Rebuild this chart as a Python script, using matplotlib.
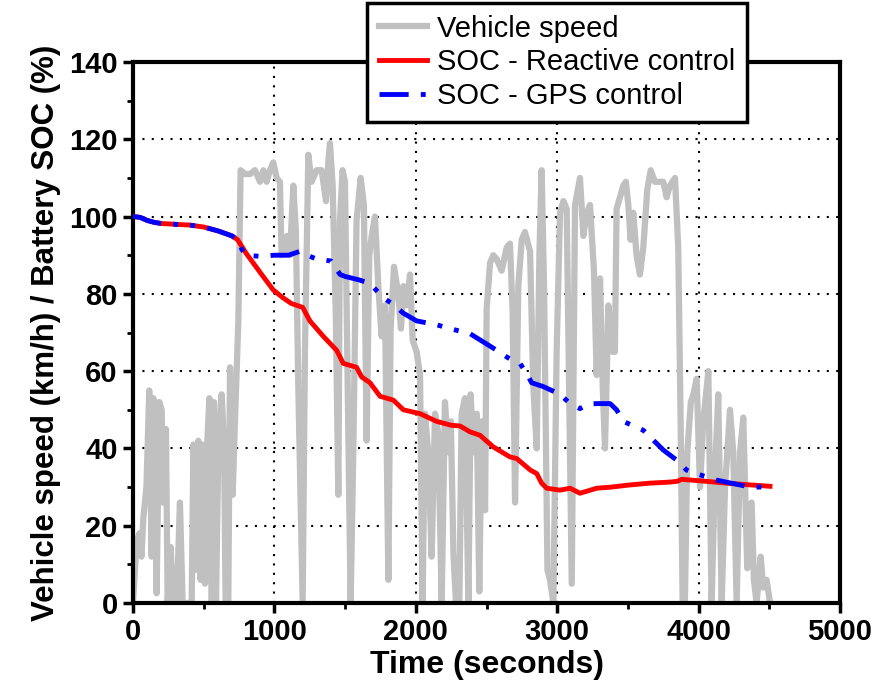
import numpy as np
import matplotlib
matplotlib.use("Agg")
import matplotlib.pyplot as plt
from matplotlib.ticker import MultipleLocator

plt.rcParams['font.family'] = ['Liberation Sans', 'DejaVu Sans']

# drive cycle: time (s) and vehicle speed (km/h)
speed_t = [0, 10, 25, 45, 60, 73, 95, 115, 132, 144, 167, 186, 203, 214, 233, 245,
           266, 285, 309, 332, 351, 415, 427, 438, 462, 478, 493, 509, 525, 540,
           557, 573, 587, 604, 627, 644, 655, 674, 686, 705, 721, 745, 761, 792,
           827, 863, 898, 922, 945, 969, 992, 1016, 1039, 1051, 1068, 1090, 1110,
           1134, 1152, 1169, 1200, 1216, 1240, 1263, 1299, 1334, 1365, 1381, 1393,
           1412, 1435, 1452, 1464, 1482, 1499, 1515, 1539, 1558, 1581, 1610, 1633,
           1652, 1671, 1688, 1711, 1735, 1758, 1782, 1806, 1822, 1846, 1876, 1895,
           1912, 1935, 1959, 1978, 2006, 2030, 2048, 2065, 2088, 2112, 2136, 2159,
           2183, 2206, 2230, 2248, 2266, 2284, 2308, 2324, 2348, 2372, 2388, 2407,
           2431, 2449, 2466, 2490, 2501, 2525, 2548, 2572, 2607, 2643, 2666, 2685,
           2702, 2725, 2749, 2772, 2808, 2831, 2855, 2874, 2890, 2907, 2931, 2949,
           2973, 2996, 3020, 3044, 3067, 3103, 3126, 3161, 3185, 3209, 3232, 3260,
           3279, 3303, 3322, 3338, 3362, 3392, 3408, 3420, 3444, 3467, 3486, 3503,
           3519, 3538, 3561, 3585, 3609, 3637, 3661, 3691, 3715, 3750, 3774, 3797,
           3833, 3856, 3873, 3887, 3903, 3920, 3945, 3963, 3986, 4010, 4033, 4069,
           4092, 4116, 4139, 4163, 4187, 4222, 4245, 4269, 4293, 4316, 4344, 4375,
           4391, 4410, 4439, 4457, 4481, 4505]
speed_v = [0, 6, 16, 18, 12, 22, 30, 55, 12, 53, 2.5, 52, 50, 26, 45, 0,
           14.5, 0, 0, 26, 0, 0, 41, 8.5, 42, 6, 41, 5, 41, 53,
           0, 52, 0, 41, 54, 41, 0, 0, 61, 28, 47, 73, 112, 111,
           111, 112, 109, 112, 109, 112, 114, 110, 109, 90, 91, 95, 90,
           108, 96, 56, 0, 65, 116, 109, 112, 112, 104, 114, 119,
           108, 73, 28, 99, 112, 109, 65, 0, 39, 99, 110, 103,
           42, 90, 95, 100, 82, 69, 77, 6, 71, 87, 80, 71,
           82, 77, 85, 68, 65, 59, 0, 49, 39, 12, 49, 44,
           0, 52, 39, 47, 13, 0, 0, 49, 53, 0, 54, 39,
           49, 3, 47, 24, 76, 88, 90, 89, 86, 92, 93, 75,
           26, 82, 94, 96, 91, 56, 40, 90, 112, 82, 8.5, 6,
           0, 65, 101, 104, 102, 5, 103, 110, 95, 101, 103, 86,
           59, 84, 56, 40, 77, 65, 65, 102, 105, 108, 109, 103,
           94, 101, 90, 85, 92, 107, 112, 109, 109, 109, 105, 108,
           110, 92, 47, 0, 0, 39, 52, 54, 58, 30, 47, 60,
           0, 34, 54, 0, 30, 50, 39, 0, 39, 48, 9, 26,
           6, 0, 12, 4, 6, 0]

# battery state of charge (%), reactive strategy
soc_reactive_t = [0, 50, 100, 150, 200, 300, 400, 500, 600, 700, 740, 800, 900,
                  992, 1060, 1120, 1200, 1251, 1346, 1440, 1487, 1581, 1617, 1676,
                  1747, 1841, 1912, 2030, 2147, 2250, 2313, 2383, 2454, 2548, 2666,
                  2713, 2810, 2855, 2890, 2926, 3020, 3091, 3161, 3279, 3385, 3500,
                  3650, 3800, 3850, 3880, 3950, 4050, 4200, 4350, 4505]
soc_reactive = [100, 99.8, 99, 98.5, 98.2, 98, 97.8, 97.3, 96.3, 95, 94, 90.5, 85.5,
                81, 79, 77.5, 76.5, 73, 69, 65.4, 62, 61, 58.5, 57,
                53.5, 52.5, 50, 49, 47, 46, 45.8, 44.3, 43.4, 40.4, 37.8,
                37.4, 34.4, 33.5, 31, 29.7, 29.2, 29.7, 28.4, 29.7, 30, 30.5,
                31, 31.3, 31.5, 32, 31.8, 31.5, 31, 30.6, 30.2]

# battery state of charge (%), GPS-based strategy
soc_gps_t = [0, 50, 100, 150, 200, 300, 400, 500, 600, 700, 740, 770, 800, 900,
             1000, 1100, 1180, 1230, 1300, 1400, 1465, 1500, 1600, 1676, 1770,
             1850, 1912, 2006, 2147, 2242, 2383, 2480, 2572, 2650, 2737, 2790,
             2819, 2902, 3020, 3091, 3161, 3220, 3279, 3374, 3420, 3467, 3609,
             3750, 3844, 3915, 3939, 4128, 4363, 4505]
soc_gps = [100, 99.8, 99, 98.5, 98.2, 98, 97.8, 97.3, 96.3, 95, 94, 91.5, 90, 89.7,
           90, 90, 91, 90, 89, 88.5, 85, 84.5, 83.6, 82.7, 79,
           77, 75, 73, 72, 71, 69.7, 67.5, 65.4, 63.5, 62, 59,
           57, 56, 54, 51.6, 50.3, 51.5, 51.6, 51.6, 50, 47, 44.7,
           39.6, 37, 34.4, 34, 31.8, 30, 30]

fig = plt.figure(figsize=(8.88, 6.92), dpi=100)
ax = fig.add_axes([133 / 888, 89 / 692, 707 / 888, 541 / 692])

ax.plot(speed_t, speed_v, color='#c0c0c0', lw=4.5, label='Vehicle speed', zorder=2)
ax.plot(soc_reactive_t, soc_reactive, color='red', lw=3.5,
        label='SOC - Reactive control', zorder=3)
ax.plot(soc_gps_t, soc_gps, color='blue', lw=3.5, dashes=(6, 2.5, 1, 2.5, 1, 2.5),
        label='SOC - GPS control', zorder=4)

ax.set_xlim(0, 5000)
ax.set_ylim(0, 140)
ax.xaxis.set_major_locator(MultipleLocator(1000))
ax.xaxis.set_minor_locator(MultipleLocator(500))
ax.yaxis.set_major_locator(MultipleLocator(20))
ax.yaxis.set_minor_locator(MultipleLocator(10))
ax.tick_params(which='major', direction='out', length=7, width=2.5,
               labelsize=21, pad=4)
ax.tick_params(which='minor', direction='out', length=4, width=2)
for lab in ax.get_xticklabels() + ax.get_yticklabels():
    lab.set_fontweight('bold')

ax.grid(True, which='major', color='black', linestyle=(0, (1, 3.5)), lw=1.5)
for sp in ax.spines.values():
    sp.set_linewidth(3)

ax.set_xlabel('Time (seconds)', fontsize=23, fontweight='bold', labelpad=3)
ax.set_ylabel('Vehicle speed (km/h) / Battery SOC (%)', fontsize=22.5,
              fontweight='bold', labelpad=6)

leg = fig.legend(loc='upper left', bbox_to_anchor=(367 / 888, 689 / 692),
                 fontsize=21, frameon=True, fancybox=False, framealpha=1,
                 edgecolor='black', borderpad=0.4, labelspacing=0.2,
                 handlelength=1.65, handletextpad=0.35, borderaxespad=0)
leg.get_frame().set_linewidth(2.5)

fig.savefig('out.png', dpi=100)
